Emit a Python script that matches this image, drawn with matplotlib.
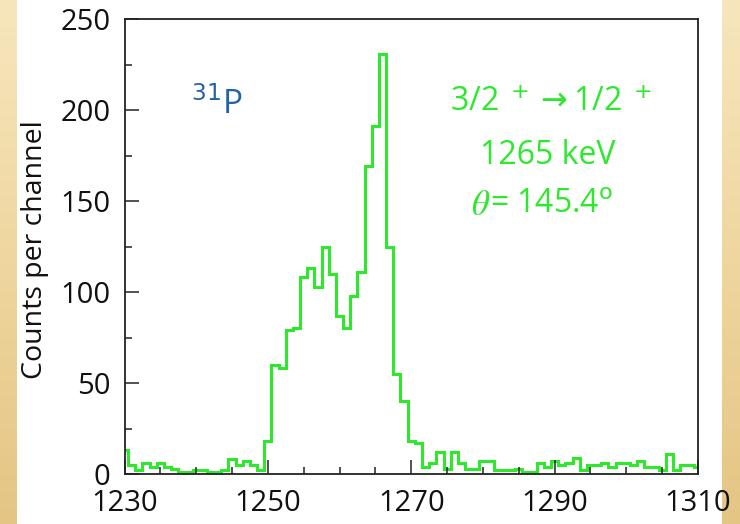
import numpy as np
import matplotlib
matplotlib.use("Agg")
import matplotlib.pyplot as plt
from matplotlib.ticker import MultipleLocator
from matplotlib.colors import LinearSegmentedColormap

plt.rcParams['font.family'] = ['Open Sans', 'DejaVu Sans']

# gamma spectrum, one channel per keV (bin centres 1230..1310)
energy = np.arange(1230, 1311)
counts = [13, 5, 2, 6, 4, 6, 4, 3, 1, 1,
          2, 2, 1, 1, 2, 8, 5, 7, 5, 2,
          18, 60, 58, 79, 80, 108, 113, 103, 125, 110,
          87, 80, 98, 111, 169, 191, 231, 125, 55, 40,
          18, 17, 4, 6, 12, 3, 12, 6, 3, 3,
          7, 7, 2, 2, 2, 3, 1, 1, 6, 4,
          7, 5, 6, 9, 2, 5, 5, 6, 4, 6,
          6, 5, 7, 4, 4, 2, 11, 2, 5, 5,
          4]
x_ticks = [1230, 1250, 1270, 1290, 1310]
y_ticks = [0, 50, 100, 150, 200, 250]

green = '#2de82d'
blue = '#2262a8'

fig = plt.figure(figsize=(7.4, 5.24), dpi=100)

# golden side strips of the slide
grad = np.linspace(0, 1, 256).reshape(-1, 1)
gold = LinearSegmentedColormap.from_list('gold', ['#f7e6bd', '#efd69f', '#e4c584'])
for x0, w in [(0.0, 17 / 740), (722 / 740, 18 / 740)]:
    sa = fig.add_axes([x0, 0, w, 1], zorder=0)
    sa.imshow(grad, aspect='auto', cmap=gold, extent=[0, 1, 1, 0])
    sa.set_axis_off()

ax = fig.add_axes([124.5 / 740, 1 - 474 / 524, (698 - 124.5) / 740, (474 - 19) / 524], zorder=2)
ax.set_facecolor('white')

edges = np.append(energy - 0.5, energy[-1] + 0.5)
ax.stairs(counts, edges, color=green, lw=2.2, baseline=None)

ax.set_xlim(1230, 1310)
ax.set_ylim(0, 250)
ax.set_xticks(x_ticks)
ax.set_yticks(y_ticks)
ax.xaxis.set_minor_locator(MultipleLocator(5))
ax.yaxis.set_minor_locator(MultipleLocator(25))
ax.tick_params(which='both', direction='in', top=False, right=False,
               width=1.2, color='#333333', labelsize=21, labelcolor='#111111')
ax.tick_params(which='major', length=10)
ax.tick_params(which='minor', length=5)
ax.tick_params(axis='x', which='major', pad=11)
ax.tick_params(axis='y', which='major', pad=10)
for s in ax.spines.values():
    s.set_linewidth(1.3)
    s.set_color('#222222')

fig.text(35 / 740, 1 - 250 / 524, 'Counts per channel', rotation=90,
         ha='center', va='center', fontsize=20.5, color='#111111')

ax.text(1239.3, 198, r'$^{31}$P', color=blue, fontsize=24,
        ha='left', va='baseline', math_fontfamily='dejavusans')
ax.text(1289.5, 204, r'3/2$^{\ +}\rightarrow$1/2$^{\ +}$', color=green,
        fontsize=23, ha='center', va='center', math_fontfamily='dejavusans')
ax.text(1289.0, 175, '1265 keV', color=green, fontsize=23,
        ha='center', va='center')
ax.text(1281.0, 147, r'$\theta$', color=green, fontsize=25,
        ha='right', va='center', math_fontfamily='stix')
ax.text(1281.0, 148, r'= 145.4$^{\mathrm{o}}$', color=green, fontsize=23,
        ha='left', va='center', math_fontfamily='dejavusans')

fig.savefig('out.png', dpi=100)
